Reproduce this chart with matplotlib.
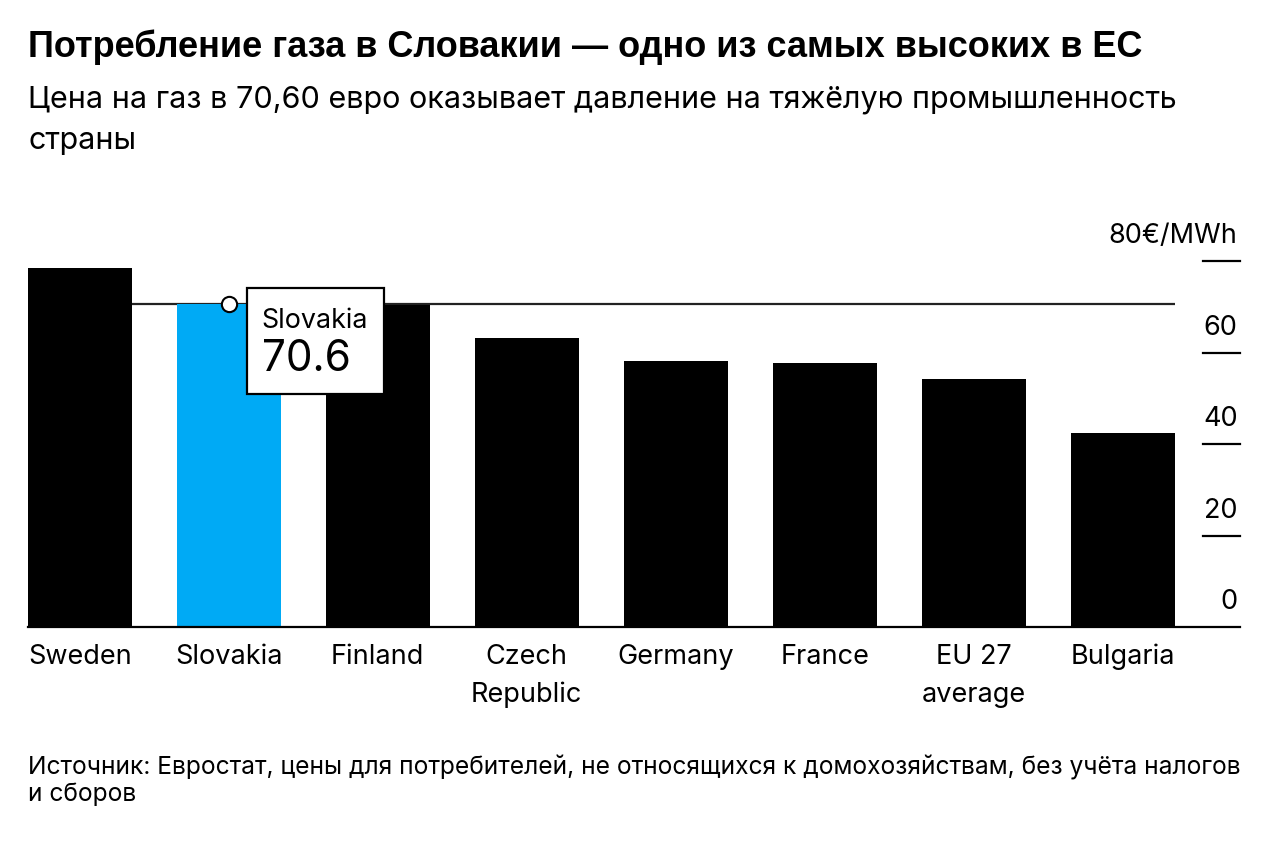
import matplotlib.pyplot as plt
from matplotlib.patches import Rectangle
from matplotlib.transforms import IdentityTransform

plt.rcParams['font.family'] = ['Inter', 'DejaVu Sans']

countries = ['Sweden', 'Slovakia', 'Finland', 'Czech\nRepublic', 'Germany',
             'France', 'EU 27\naverage', 'Bulgaria']
prices = [78.5, 70.6, 70.5, 63.2, 58.2, 57.7, 54.3, 42.4]
highlight = 'Slovakia'
yticks = [0, 20, 40, 60, 80]
ytick_labels = ['0', '20', '40', '60', '80€/MWh']

title = 'Потребление газа в Словакии — одно из самых высоких в ЕС'
subtitle_lines = ['Цена на газ в 70,60 евро оказывает давление на тяжёлую промышленность',
                  'страны']
source_lines = ['Источник: Евростат, цены для потребителей, не относящихся к домохозяйствам, без учёта налогов',
                'и сборов']

W, H = 1280, 844
fig = plt.figure(figsize=(W / 100, H / 100), dpi=100)
ax = fig.add_axes([28 / W, (H - 627) / H, (1240 - 28) / W, (627 - 261.5) / H])

bw = 0.695
xs = list(range(len(countries)))
colors = ['#00AAF5' if c.startswith(highlight) else 'black' for c in countries]
ax.bar(xs, prices, width=bw, color=colors, zorder=3)

ax.set_xlim(-bw / 2, -bw / 2 + 1212 / 149)
ax.set_ylim(0, 80)

# reference line at Slovakia level
hv = prices[countries.index(highlight)]
ax.hlines(hv, -bw / 2, xs[-1] + bw / 2, color='#222222', lw=1.6, zorder=2)

# spines / ticks
for s in ['top', 'right', 'left']:
    ax.spines[s].set_visible(False)
ax.spines['bottom'].set_linewidth(1.6)
ax.spines['bottom'].set_zorder(4)
ax.set_yticks([])
ax.set_xticks(xs)
ax.set_xticklabels(countries, fontsize=19.5, linespacing=1.6)
ax.tick_params(axis='x', length=0, pad=12)

ytr = ax.get_yaxis_transform()
x0 = (1203 - 28) / 1212
for v, lab in zip(yticks, ytick_labels):
    if v > 0:
        ax.plot([x0, 1], [v, v], color='black', lw=1.6, transform=ytr, clip_on=False)
    ax.annotate(lab, (0.998, v), xycoords=ytr, xytext=(0, 13), textcoords='offset points',
                ha='right', va='baseline', fontsize=19.5)

# callout box
fig.canvas.draw()
px, py = ax.transData.transform((countries.index(highlight), hv))
ax.plot([countries.index(highlight)], [hv], 'o', ms=11, mfc='white', mec='black', mew=1.5,
        zorder=6, clip_on=False)
box = Rectangle((px + 18, py - 90), 137, 106, transform=IdentityTransform(),
                facecolor='white', edgecolor='black', lw=1.6, zorder=7)
fig.add_artist(box)
fig.text(px + 33, py - 24, highlight, transform=IdentityTransform(), fontsize=19.3,
         va='baseline', zorder=8)
fig.text(px + 33, py - 67, f'{hv}', transform=IdentityTransform(), fontsize=30.5,
         va='baseline', zorder=8)

fig.text(28 / W, 1 - 57 / H, title, fontsize=26, fontweight='bold', va='baseline',
         family=['Liberation Sans', 'DejaVu Sans'])
for i, line in enumerate(subtitle_lines):
    fig.text(28 / W, 1 - (108 + 41 * i) / H, line, fontsize=22, va='baseline')
for i, line in enumerate(source_lines):
    fig.text(28 / W, 1 - (774 + 27 * i) / H, line, fontsize=17.7, va='baseline')

fig.savefig('out.png', dpi=100)
